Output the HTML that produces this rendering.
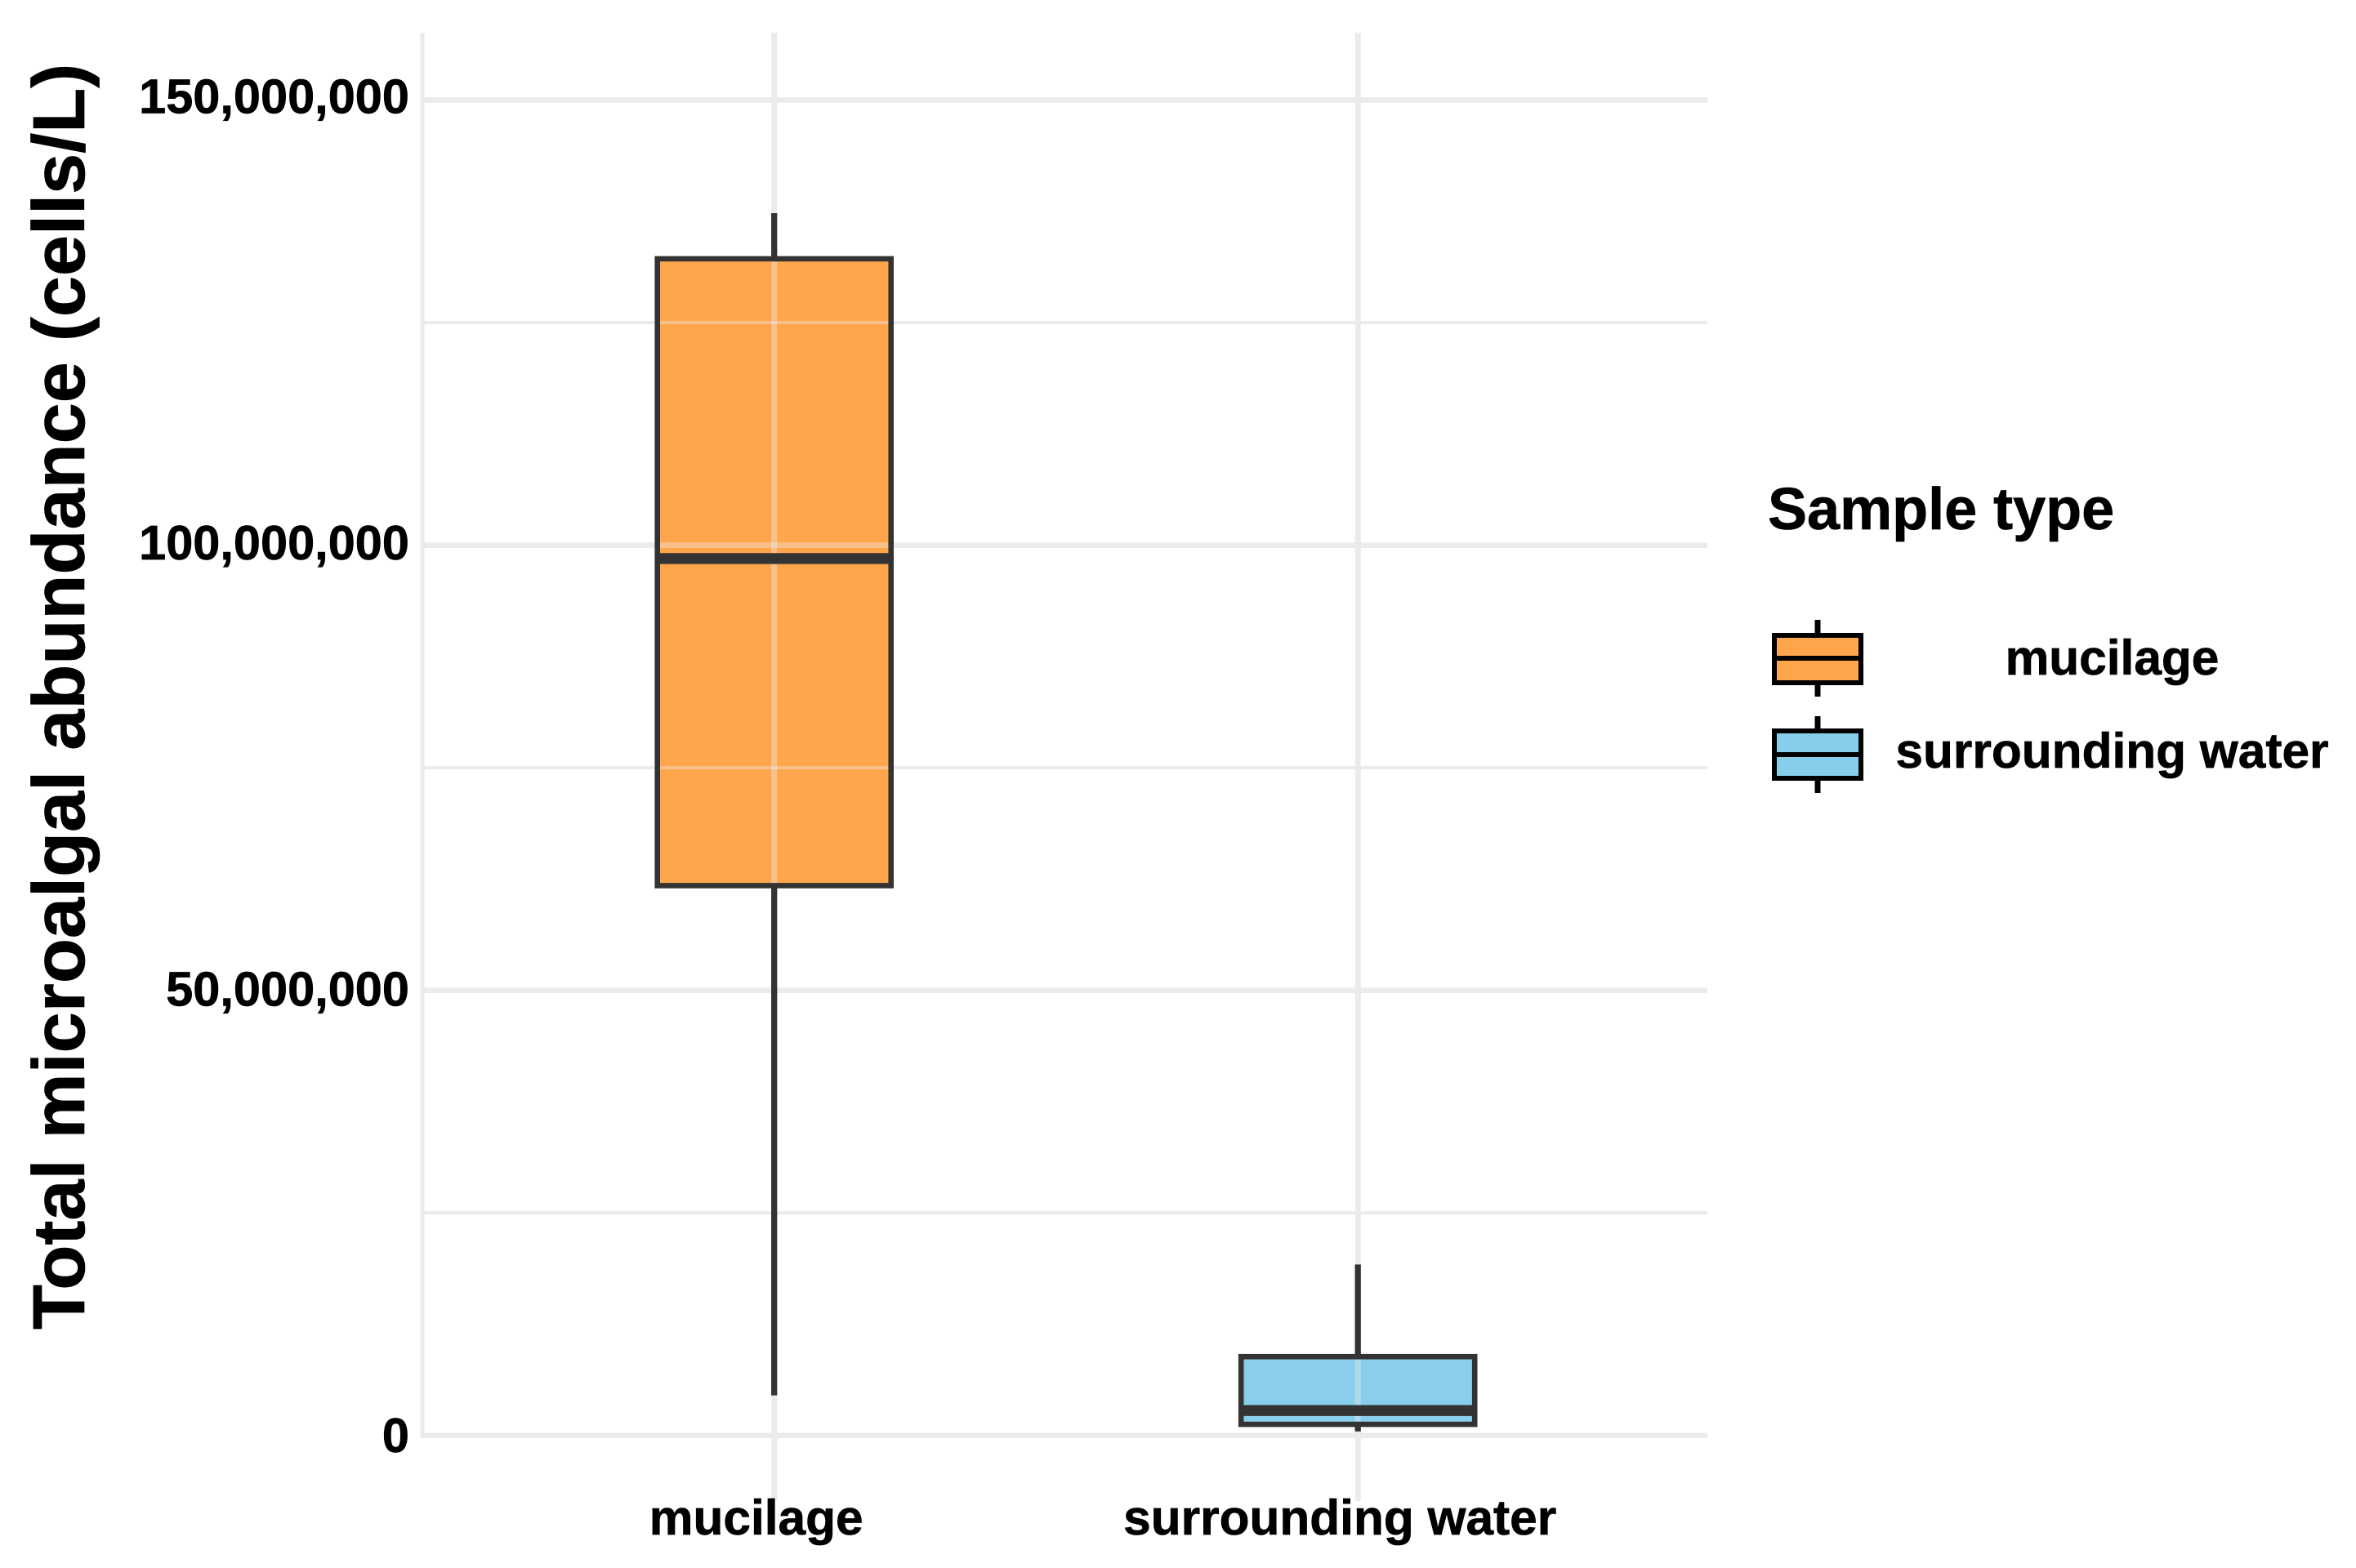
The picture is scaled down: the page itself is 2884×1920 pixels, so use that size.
<!DOCTYPE html>
<html lang="en">
<head>
<meta charset="utf-8">
<title>Total microalgal abundance by sample type</title>
<style>
html,body{margin:0;padding:0;background:#fff;}
svg{display:block;}
text{font-family:"Liberation Sans",Arial,sans-serif;font-weight:700;fill:#000;stroke:#000;stroke-width:0.7px;}
</style>
</head>
<body>
<svg id="chart" xmlns="http://www.w3.org/2000/svg" width="2884" height="1920" viewBox="0 0 2884 1920">
  <rect x="0" y="0" width="2884" height="1920" fill="#ffffff"/>
  <g id="grid"></g>
  <g id="boxes"></g>
  <g id="yticks"></g>
  <g id="xticks"></g>
  <text transform="translate(103,1628) rotate(-90)" font-size="90.1">Total microalgal abundance (cells/L)</text>
  <g>
    <text x="2164" y="648" font-size="72">Sample type</text>
    <g>
      <line x1="2225" x2="2225" y1="759" y2="853" stroke="#000" stroke-width="7"/>
      <rect x="2172" y="778" width="106" height="58" fill="#FFA64D" stroke="#000" stroke-width="6"/>
      <line x1="2172" x2="2278" y1="806" y2="806" stroke="#000" stroke-width="6"/>
      <text x="2585.5" y="826" font-size="60.4" text-anchor="middle">mucilage</text>
    </g>
    <g>
      <line x1="2225" x2="2225" y1="877" y2="971" stroke="#000" stroke-width="7"/>
      <rect x="2172" y="895" width="106" height="58" fill="#87CEEB" stroke="#000" stroke-width="6"/>
      <line x1="2172" x2="2278" y1="924" y2="924" stroke="#000" stroke-width="6"/>
      <text x="2585.5" y="940" font-size="60.4" text-anchor="middle">surrounding water</text>
    </g>
  </g>
</svg>
<script>
// Chart data (values in cells/L)
const categories = ['mucilage', 'surrounding water'];
const whiskerLow = [4500000, 450000];
const q1 = [61760000, 1250000];
const median = [98500000, 2800000];
const q3 = [132170000, 8850000];
const whiskerHigh = [137300000, 19200000];
const majorTicks = [0, 50000000, 100000000, 150000000];
const tickLabels = ['0', '50,000,000', '100,000,000', '150,000,000'];
const minorTicks = [25000000, 75000000, 125000000];
const boxFills = ['#FFA64D', '#89CFEC'];

// Axis functions
const NS = 'http://www.w3.org/2000/svg';
const panelLeft = 517, panelRight = 2090, panelTop = 40, zeroY = 1757.7;
const pxPerUnit = 272.53 / 25000000;
const y = v => zeroY - v * pxPerUnit;
const x = i => 947.7 + 714.5 * i;
const labelY = v => y(v) + 20.2 - v / 50000000 * 1.36;
const halfBox = 143;

function mk(parent, tag, attrs, text) {
  const el = document.createElementNS(NS, tag);
  for (const k in attrs) el.setAttribute(k, attrs[k]);
  if (text !== undefined) el.textContent = text;
  parent.appendChild(el);
  return el;
}
function slug(s) { return String(s).toLowerCase().replace(/[^a-z0-9]+/g, '-'); }

const grid = document.getElementById('grid');
const boxes = document.getElementById('boxes');
const yticks = document.getElementById('yticks');
const xticks = document.getElementById('xticks');

// Left panel edge
const edge = mk(grid, 'line', {x1: panelLeft, x2: panelLeft, y1: panelTop, y2: zeroY + 3.3, stroke: '#EBEBEB', 'stroke-width': 5});



// Horizontal grid
minorTicks.forEach(v => {
  const l = mk(grid, 'line', {x1: panelLeft, x2: panelRight, y1: y(v), y2: y(v), stroke: '#EBEBEB', 'stroke-width': 4});
  
  
});
majorTicks.forEach((v, i) => {
  const l = mk(grid, 'line', {x1: panelLeft, x2: panelRight, y1: y(v), y2: y(v), stroke: '#EBEBEB', 'stroke-width': 6.6});
  
  
  const t = mk(yticks, 'text', {x: 501, y: labelY(v), 'font-size': 59.5, 'text-anchor': 'end'}, tickLabels[i]);
  
  
});

// Vertical grid and category labels
categories.forEach((c, i) => {
  const l = mk(grid, 'line', {x1: x(i), x2: x(i), y1: panelTop, y2: 1838, stroke: '#EBEBEB', 'stroke-width': 7});
  
  
  const t = mk(xticks, 'text', {x: x(i) - 22, y: 1879, 'font-size': 60.4, 'text-anchor': 'middle'}, c);
  
  
});

// Boxes
categories.forEach((c, i) => {
  const g = mk(boxes, 'g', {});
  
  

  const whisker = mk(g, 'line', {x1: x(i), x2: x(i), y1: y(whiskerHigh[i]), y2: y(whiskerLow[i]), stroke: '#333333', 'stroke-width': 7.3});
  
  

  const left = x(i) - halfBox, w = halfBox * 2, top = y(q3[i]), h = y(q1[i]) - y(q3[i]);
  const fill = mk(g, 'rect', {x: left, y: top, width: w, height: h, fill: boxFills[i]});
  
  

  // Grid shows through the translucent box
  const vert = mk(g, 'line', {x1: x(i), x2: x(i), y1: top, y2: top + h, stroke: '#EBEBEB', 'stroke-opacity': 0.4, 'stroke-width': 7});
  
  
  majorTicks.concat(minorTicks).forEach(v => {
    if (v > q1[i] && v < q3[i]) {
      const o = mk(g, 'line', {x1: left, x2: left + w, y1: y(v), y2: y(v), stroke: '#EBEBEB', 'stroke-opacity': 0.4, 'stroke-width': majorTicks.includes(v) ? 6.6 : 4});
      
      
    }
  });

  const outline = mk(g, 'rect', {x: left, y: top, width: w, height: h, fill: 'none', stroke: '#333333', 'stroke-width': 6.6});
  
  

  const med = mk(g, 'line', {x1: left, x2: left + w, y1: y(median[i]), y2: y(median[i]), stroke: '#333333', 'stroke-width': 13.3});
  
  
});
</script>
</body>
</html>
